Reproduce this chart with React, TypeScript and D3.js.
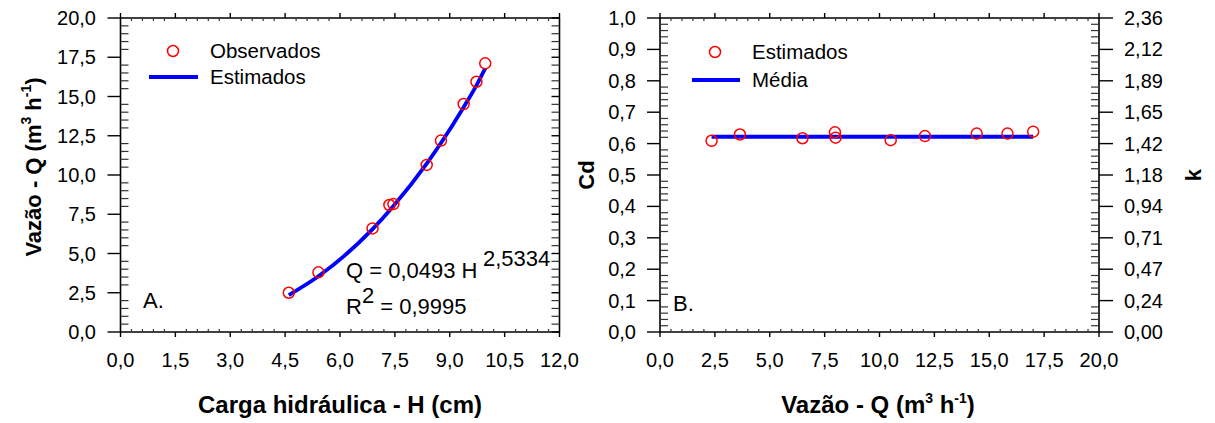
import React from "react";
import * as d3 from "d3";

// ---------- DATA ----------
const obsH = [4.6, 5.41, 6.89, 7.35, 7.46, 8.37, 8.76, 9.38, 9.73, 9.97];
const obsQ = [2.5, 3.8, 6.6, 8.09, 8.15, 10.64, 12.19, 14.52, 15.94, 17.11];
const fitH = [4.6, 5.41, 6.89, 7.35, 7.46, 8.37, 8.76, 9.38, 9.73, 9.97];
const fitQ = [2.35, 3.55, 6.55, 7.72, 8.02, 10.73, 12.04, 14.32, 15.71, 16.8];

const cdQ = [2.35, 3.64, 6.49, 7.97, 8.0, 10.51, 12.07, 14.43, 15.83, 17.0];
const cdVal = [0.609, 0.629, 0.617, 0.636, 0.619, 0.611, 0.624, 0.632, 0.632, 0.638];
const meanQ = [2.35, 17.0];
const meanCd = [0.622, 0.622];

const leftXTicks = [0, 1.5, 3, 4.5, 6, 7.5, 9, 10.5, 12];
const leftYTicks = [0, 2.5, 5, 7.5, 10, 12.5, 15, 17.5, 20];
const rightXTicks = [0, 2.5, 5, 7.5, 10, 12.5, 15, 17.5, 20];
const cdTicks = [0, 0.1, 0.2, 0.3, 0.4, 0.5, 0.6, 0.7, 0.8, 0.9, 1.0];
const kLabels = ["0,00", "0,24", "0,47", "0,71", "0,94", "1,18", "1,42", "1,65", "1,89", "2,12", "2,36"];
const kMax = 2.36;

const FONT = "Arial, 'Liberation Sans', sans-serif";
const fmt1 = (v: number) => d3.format(".1f")(v).replace(".", ",");

function minorTicks(major: number[], n: number) {
  const out: number[] = [];
  for (let i = 0; i < major.length - 1; i++) {
    const a = major[i], b = major[i + 1];
    for (let j = 1; j < n; j++) out.push(a + ((b - a) * j) / n);
  }
  return out;
}

const TICK = 20;

export default function App() {
  const L = { x0: 120.5, x1: 559.5, y0: 18, y1: 332 };
  const lx = d3.scaleLinear().domain([0, 12]).range([L.x0, L.x1]);
  const ly = d3.scaleLinear().domain([0, 20]).range([L.y1, L.y0]);
  const R = { x0: 660, x1: 1099, y0: 18, y1: 332 };
  const rx = d3.scaleLinear().domain([0, 20]).range([R.x0, R.x1]);
  const ry = d3.scaleLinear().domain([0, 1]).range([R.y1, R.y0]);
  const ky = d3.scaleLinear().domain([0, kMax]).range([R.y1, R.y0]);

  const fitLine = d3
    .line<number>()
    .x((_, i) => lx(fitH[i]))
    .y((d) => ly(d))
    .curve(d3.curveMonotoneX)(fitQ) as string;

  const meanLine = d3
    .line<number>()
    .x((_, i) => rx(meanQ[i]))
    .y((d) => ry(d))(meanCd) as string;

  const ax = { stroke: "#000", strokeWidth: 1.6 };
  const tk = { stroke: "#000", strokeWidth: 1.4 };
  const mt = { stroke: "#333", strokeWidth: 1.2 };

  const frame = (
    P: { x0: number; x1: number; y0: number; y1: number },
    xs: d3.ScaleLinear<number, number>,
    xt: number[],
    ys: d3.ScaleLinear<number, number>,
    yt: number[],
    xMinorN: number,
    yMinorN: number,
    rightScale?: d3.ScaleLinear<number, number>,
    rightTicks?: number[]
  ) => {
    const xm = minorTicks(xt, xMinorN);
    const ym = minorTicks(yt, yMinorN);
    return (
      <g>
        <line x1={P.x0} x2={P.x1} y1={P.y1} y2={P.y1} {...ax} />
        <line x1={P.x0} x2={P.x1} y1={P.y0} y2={P.y0} {...ax} />
        <line x1={P.x0} x2={P.x0} y1={P.y0} y2={P.y1} {...ax} />
        <line x1={P.x1} x2={P.x1} y1={P.y0} y2={P.y1} {...ax} />
        {xt.map((v, i) => (
          <g key={"xt" + i}>
            <line x1={xs(v)} x2={xs(v)} y1={P.y1} y2={P.y1 + 5} {...tk} />
            <line x1={xs(v)} x2={xs(v)} y1={P.y0} y2={P.y0 - 5} {...tk} />
          </g>
        ))}
        {xm.map((v, i) => (
          <g key={"xm" + i}>
            <line x1={xs(v)} x2={xs(v)} y1={P.y1} y2={P.y1 - 3} {...mt} />
            <line x1={xs(v)} x2={xs(v)} y1={P.y0} y2={P.y0 + 3} {...mt} />
          </g>
        ))}
        {yt.map((v, i) => (
          <line key={"yt" + i} x1={P.x0 - 13} x2={P.x0} y1={ys(v)} y2={ys(v)} {...tk} />
        ))}
        {ym.map((v, i) => (
          <line key={"ym" + i} x1={P.x0} x2={P.x0 + 8} y1={ys(v)} y2={ys(v)} {...mt} />
        ))}
        {rightScale && rightTicks
          ? rightTicks.map((v, i) => (
              <line key={"rt" + i} x1={P.x1} x2={P.x1 + 14} y1={rightScale(v)} y2={rightScale(v)} {...tk} />
            ))
          : yt.map((v, i) => (
              <line key={"rt" + i} x1={P.x1 - 8} x2={P.x1} y1={ys(v)} y2={ys(v)} {...tk} />
            ))}
        {(rightScale && rightTicks ? minorTicks(rightTicks, 5).map((v) => rightScale(v)) : ym.map((v) => ys(v))).map(
          (y, i) => (
            <line key={"rm" + i} x1={P.x1 - 8} x2={P.x1} y1={y} y2={y} {...mt} />
          )
        )}
        {xt.map((v, i) => (
          <text key={"xl" + i} x={xs(v)} y={P.y1 + 35} textAnchor="middle" fontSize={TICK} fontFamily={FONT}>
            {fmt1(v)}
          </text>
        ))}
      </g>
    );
  };

  const kTickVals = kLabels.map((_, i) => (kMax * i) / 10);

  const qLabel = (
    <>
      Vazão - Q (m
      <tspan fontSize={14} dy={-10}>3</tspan>
      <tspan dy={10}> h</tspan>
      <tspan fontSize={14} dy={-10}>-1</tspan>
      <tspan dy={10}>)</tspan>
    </>
  );

  return (
    <svg
      width={1215}
      height={423}
      style={{ position: "absolute", left: 0, top: 0, background: "#fff" }}
      fontFamily={FONT}
    >
      <rect width={1215} height={423} fill="#fff" />

      {/* ===== LEFT PANEL ===== */}
      {frame(L, lx, leftXTicks, ly, leftYTicks, 5, 5)}
      {leftYTicks.map((v, i) => (
        <text key={"ly" + i} x={96} y={ly(v)} dy="0.35em" textAnchor="end" fontSize={TICK}>
          {fmt1(v)}
        </text>
      ))}
      <text transform={`translate(41,167) rotate(-90)`} textAnchor="middle" fontSize={22} fontWeight="bold">
        {qLabel}
      </text>
      <text x={(L.x0 + L.x1) / 2} y={413} textAnchor="middle" fontSize={24} fontWeight="bold">
        Carga hidráulica - H (cm)
      </text>

      <path d={fitLine} fill="none" stroke="#0000ff" strokeWidth={3.8} />
      {obsH.map((h, i) => (
        <circle key={"o" + i} cx={lx(h)} cy={ly(obsQ[i])} r={5.5} fill="none" stroke="#ff0000" strokeWidth={1.5} />
      ))}

      <circle cx={173} cy={51} r={5.5} fill="none" stroke="#ff0000" strokeWidth={1.5} />
      <text x={210} y={51} dy="0.35em" fontSize={20.5}>Observados</text>
      <line x1={149} x2={198} y1={77} y2={77} stroke="#0000ff" strokeWidth={4} />
      <text x={210} y={77} dy="0.35em" fontSize={20.5}>Estimados</text>

      <text x={143} y={308} fontSize={22}>A.</text>
      <text x={346} y={278} fontSize={22}>Q = 0,0493 H</text>
      <text x={483} y={266} fontSize={22}>2,5334</text>
      <text x={346} y={314} fontSize={22}>
        R<tspan dy={-11}>2</tspan>
        <tspan dy={11}> = 0,9995</tspan>
      </text>

      {/* ===== RIGHT PANEL ===== */}
      {frame(R, rx, rightXTicks, ry, cdTicks, 5, 5, ky, kTickVals)}
      {cdTicks.map((v, i) => (
        <text key={"cy" + i} x={636} y={ry(v)} dy="0.35em" textAnchor="end" fontSize={TICK}>
          {fmt1(v)}
        </text>
      ))}
      {kTickVals.map((v, i) => (
        <text key={"ky" + i} x={1124} y={ky(v)} dy="0.35em" textAnchor="start" fontSize={TICK}>
          {kLabels[i]}
        </text>
      ))}
      <text
        transform={`translate(586,${(R.y0 + R.y1) / 2}) rotate(-90)`}
        textAnchor="middle"
        dy="0.35em"
        fontSize={22}
        fontWeight="bold"
      >
        Cd
      </text>
      <text
        transform={`translate(1193,${(R.y0 + R.y1) / 2}) rotate(-90)`}
        textAnchor="middle"
        dy="0.35em"
        fontSize={22}
        fontWeight="bold"
      >
        k
      </text>
      <text x={878} y={413} textAnchor="middle" fontSize={24} fontWeight="bold">
        {qLabel}
      </text>

      <path d={meanLine} fill="none" stroke="#0000ff" strokeWidth={4} />
      {cdQ.map((q, i) => (
        <circle key={"c" + i} cx={rx(q)} cy={ry(cdVal[i])} r={5.5} fill="none" stroke="#ff0000" strokeWidth={1.5} />
      ))}

      <circle cx={715} cy={52} r={5.5} fill="none" stroke="#ff0000" strokeWidth={1.5} />
      <text x={752} y={52} dy="0.35em" fontSize={20.5}>Estimados</text>
      <line x1={692} x2={740} y1={80} y2={80} stroke="#0000ff" strokeWidth={4} />
      <text x={752} y={80} dy="0.35em" fontSize={20.5}>Média</text>

      <text x={673} y={311} fontSize={22}>B.</text>
    </svg>
  );
}
